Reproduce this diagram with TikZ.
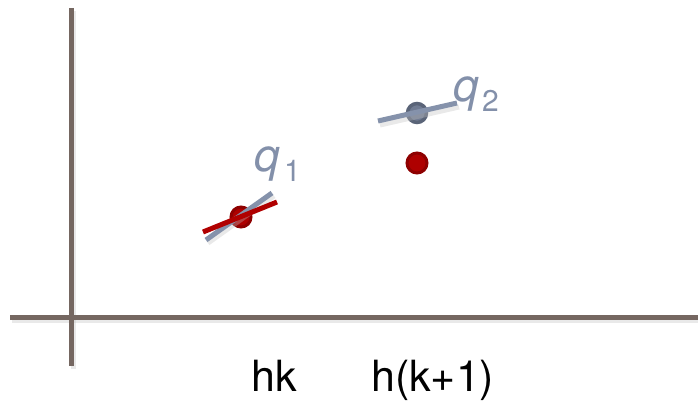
\documentclass[tikz,border=0pt]{standalone}
\usepackage{fontspec}
\setmainfont{TeX Gyre Heros}
\definecolor{axiscol}{HTML}{756761}
\definecolor{bluegray}{HTML}{8592AB}
\definecolor{labcol}{HTML}{8390AA}
\definecolor{redline}{HTML}{B00000}
\definecolor{reddot}{HTML}{8E0000}
\definecolor{reddotin}{HTML}{AE0000}
\definecolor{bluedot}{HTML}{5A6478}
\definecolor{bluedotin}{HTML}{707B92}
\begin{document}
\begin{tikzpicture}[x=1pt,y=1pt,
  axis/.style={draw=axiscol,line width=5pt},
  shade/.style={draw=black!25,opacity=0.35,line width=5pt},
  tangent/.style={line width=5pt},
  reddotst/.style={circle,fill=reddotin,draw=reddot,line width=3pt,minimum size=20pt,inner sep=0pt},
  bluedotst/.style={circle,fill=bluedotin,draw=bluedot,line width=3.5pt,minimum size=19pt,inner sep=0pt},
  lab/.style={inner sep=0pt,anchor=base west,font=\fontsize{43}{50}\selectfont},
  qlab/.style={inner sep=0pt,anchor=base west,text=labcol,font=\fontsize{46}{52}\selectfont\itshape},
  sublab/.style={inner sep=0pt,anchor=base west,text=labcol,font=\fontsize{30}{36}\selectfont}]
\useasboundingbox (0,0) rectangle (698,401);
% axes
\coordinate (xa) at (10,83);
\coordinate (xb) at (698,83);
\coordinate (ya) at (71,393);
\coordinate (yb) at (71,35);
\draw[shade] ([shift={(2,-3)}]xa) -- ([shift={(2,-3)}]xb);
\draw[shade] ([shift={(2,-3)}]ya) -- ([shift={(2,-3)}]yb);
\draw[axis] (xa) -- (xb);
\draw[axis] (ya) -- (yb);
% point 1
\node[reddotst] (p1) at (241,184) {};
\coordinate (g1a) at (206,161);
\coordinate (g1b) at (272,208);
\coordinate (r1a) at (203,169);
\coordinate (r1b) at (277,199);
\draw[shade] ([shift={(2,-3)}]g1a) -- ([shift={(2,-3)}]g1b);
\draw[tangent,bluegray] (g1a) -- (g1b);
\draw[tangent,redline] (r1a) -- (r1b);
% point 2
\node[bluedotst] (p2) at (417,288) {};
\coordinate (g2a) at (378,280);
\coordinate (g2b) at (457,298);
\draw[shade] ([shift={(2,-4)}]g2a) -- ([shift={(2,-4)}]g2b);
\draw[tangent,bluegray] (g2a) -- (g2b);
\node[reddotst] (p3) at (417,238) {};
% labels
\node[qlab] (q1) at (254,229) {q};
\node[sublab] (s1) at (284,219) {1};
\node[qlab] (q2) at (453,299) {q};
\node[sublab] (s2) at (482,289) {2};
\node[lab] (hk) at (251,9) {hk};
\node[lab] (hk1) at (371,9) {h(k+1)};
\end{tikzpicture}
\end{document}
